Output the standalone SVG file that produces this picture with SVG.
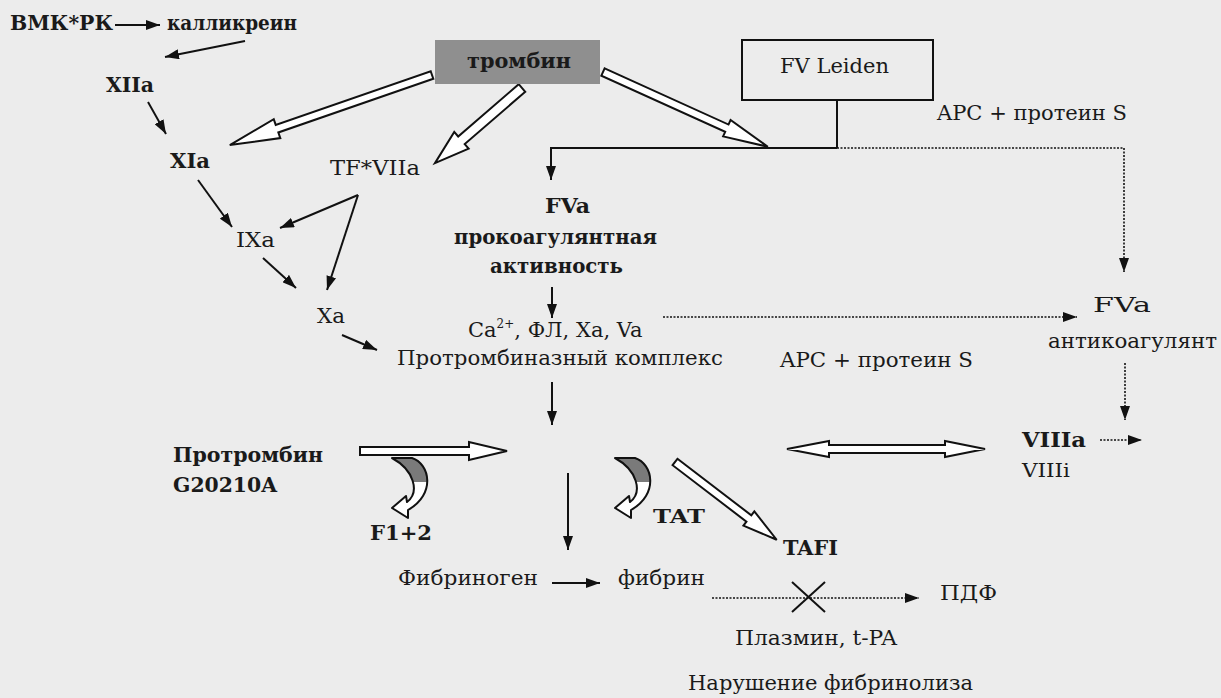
<svg xmlns="http://www.w3.org/2000/svg" xmlns:xlink="http://www.w3.org/1999/xlink" width="1221" height="698" viewBox="0 0 1221 698">
<style>
text{font-family:'DejaVu Serif',serif;font-size:21px;fill:#1a1a1a}
.b{font-weight:bold;font-size:20px}
.ln{stroke:#111;stroke-width:2;fill:none}
.dt{stroke:#111;stroke-width:1.6;fill:none;stroke-dasharray:2 1.5}
.hol{fill:#fff;stroke:#111;stroke-width:2;stroke-linejoin:miter}
</style>
<defs>
<marker id="ah" viewBox="0 0 14 10" refX="14" refY="5" markerWidth="14" markerHeight="10" markerUnits="userSpaceOnUse" orient="auto"><path d="M0,0 L14,5 L0,10 z" fill="#111"/></marker>
<clipPath id="topc" clipPathUnits="userSpaceOnUse"><rect x="-5" y="-5" width="50" height="29"/></clipPath>
<g id="curl">
<path d="M0,0 L20,0 C38,6 44,36 16,52 L16,60 L0,50 L14,38 L15,44 C28,34 22,12 0,0 Z" fill="#fff"/>
<path d="M0,0 L20,0 C38,6 44,36 16,52 L16,60 L0,50 L14,38 L15,44 C28,34 22,12 0,0 Z" fill="#7a7a7a" clip-path="url(#topc)"/>
<path d="M0,0 L20,0 C38,6 44,36 16,52 L16,60 L0,50 L14,38 L15,44 C28,34 22,12 0,0 Z" fill="none" stroke="#111" stroke-width="2" stroke-linejoin="round"/>
</g>
</defs>
<rect x="0" y="0" width="1221" height="698" fill="#ececec"/>

<g id="connectors">
<line class="ln" x1="115" y1="25" x2="160" y2="25" marker-end="url(#ah)"/>
<line class="ln" x1="245" y1="41" x2="165" y2="57" marker-end="url(#ah)"/>
<line class="ln" x1="148" y1="102" x2="166" y2="134" marker-end="url(#ah)"/>
<line class="ln" x1="198" y1="180" x2="232" y2="227" marker-end="url(#ah)"/>
<line class="ln" x1="358" y1="195" x2="280" y2="228" marker-end="url(#ah)"/>
<line class="ln" x1="358" y1="195" x2="327" y2="290" marker-end="url(#ah)"/>
<line class="ln" x1="263" y1="258" x2="296" y2="288" marker-end="url(#ah)"/>
<line class="ln" x1="342" y1="335" x2="377" y2="350" marker-end="url(#ah)"/>
<line class="ln" x1="550" y1="148" x2="837" y2="148"/>
<line class="ln" x1="837" y1="100" x2="837" y2="148"/>
<line class="ln" x1="551" y1="149" x2="551" y2="180" marker-end="url(#ah)"/>
<line class="ln" x1="552" y1="287" x2="552" y2="318" marker-end="url(#ah)"/>
<line class="ln" x1="552" y1="382" x2="552" y2="425" marker-end="url(#ah)"/>
<line class="ln" x1="568" y1="473" x2="568" y2="550" marker-end="url(#ah)"/>
<line class="ln" x1="552" y1="583" x2="600" y2="583" marker-end="url(#ah)"/>
<polyline class="dt" points="837,148 1124,148 1124,272" marker-end="url(#ah)"/>
<line class="dt" x1="663" y1="317" x2="1077" y2="317" marker-end="url(#ah)"/>
<line class="dt" x1="1125" y1="363" x2="1125" y2="420" marker-end="url(#ah)"/>
<line class="dt" x1="1100" y1="440" x2="1142" y2="440" marker-end="url(#ah)"/>
<line class="dt" x1="712" y1="598" x2="919" y2="598" marker-end="url(#ah)"/>
<line class="ln" x1="792" y1="582" x2="825" y2="612" stroke-width="1.6"/>
<line class="ln" x1="792" y1="612" x2="825" y2="582" stroke-width="1.6"/>
<polygon class="hol" transform="translate(432,75) rotate(160.9)" points="0,-4 164,-4 164,-10 214,0 164,10 164,4 0,4"/>
<polygon class="hol" transform="translate(522,88) rotate(139.2)" points="0,-5 80,-5 80,-11 115,0 80,11 80,5 0,5"/>
<polygon class="hol" transform="translate(603,72) rotate(24.4)" points="0,-4 136,-4 136,-9 181,0 136,9 136,4 0,4"/>
<polygon class="hol" points="360,447 469,447 469,442 507,451 469,460 469,455 360,455"/>
<polygon class="hol" points="787,449 829,441 829,445 945,445 945,441 985,449 945,457 945,453 829,453 829,457"/>
<polygon class="hol" transform="translate(675,462) rotate(37.4)" points="0,-4 93,-4 93,-9 128,0 93,9 93,4 0,4"/>
<use xlink:href="#curl" transform="translate(392,458)"/>
<use xlink:href="#curl" transform="translate(615,458)"/>
</g>

<g font-family="DejaVu Serif, serif">
<g id="n-vmk"><text class="b" x="10" y="30" textLength="103" lengthAdjust="spacingAndGlyphs">ВМК*РК</text></g>
<g id="n-kallikrein"><text class="b" x="167" y="30" textLength="130" lengthAdjust="spacingAndGlyphs">калликреин</text></g>
<g id="n-XIIa"><text class="b" x="106" y="92" textLength="48" lengthAdjust="spacingAndGlyphs">XIIa</text></g>
<g id="n-XIa"><text class="b" x="170" y="168" textLength="40" lengthAdjust="spacingAndGlyphs">XIa</text></g>
<g id="n-TFVIIa"><text x="330" y="175" textLength="90" lengthAdjust="spacingAndGlyphs">TF*VIIa</text></g>
<g id="n-IXa"><text x="236" y="247" textLength="39" lengthAdjust="spacingAndGlyphs">IXa</text></g>
<g id="n-Xa"><text x="317" y="323" textLength="28" lengthAdjust="spacingAndGlyphs">Xa</text></g>
<g id="n-thrombin"><rect x="435" y="40" width="165" height="44" fill="#8f8f8f"/><text class="b" x="467" y="68" textLength="104" lengthAdjust="spacingAndGlyphs">тромбин</text></g>
<g id="n-fvleiden"><rect x="742" y="40" width="191" height="60" fill="none" stroke="#111" stroke-width="2"/><text x="780" y="73" textLength="109" lengthAdjust="spacingAndGlyphs">FV Leiden</text></g>
<g id="l-apc1"><text x="937" y="120" textLength="190" lengthAdjust="spacingAndGlyphs">APC + протеин S</text></g>
<g id="n-fva-pro"><text class="b" x="545" y="213" textLength="45" lengthAdjust="spacingAndGlyphs">FVa</text><text class="b" x="454" y="244" textLength="203" lengthAdjust="spacingAndGlyphs">прокоагулянтная</text><text class="b" x="490" y="273" textLength="133" lengthAdjust="spacingAndGlyphs">активность</text></g>
<g id="n-complex"><text x="468" y="337">Ca<tspan dy="-9" style="font-size:12px">2+</tspan><tspan dy="9">, ФЛ, Xa, Va</tspan></text><text x="397" y="365" textLength="326" lengthAdjust="spacingAndGlyphs">Протромбиназный комплекс</text></g>
<g id="n-fva-anti"><text x="1093" y="312" textLength="58" lengthAdjust="spacingAndGlyphs">FVa</text><text x="1048" y="348" textLength="169" lengthAdjust="spacingAndGlyphs">антикоагулянт</text></g>
<g id="l-apc2"><text x="780" y="367" textLength="193" lengthAdjust="spacingAndGlyphs">APC + протеин S</text></g>
<g id="n-VIII"><text class="b" x="1022" y="447" textLength="64" lengthAdjust="spacingAndGlyphs">VIIIa</text><text x="1022" y="477" textLength="48" lengthAdjust="spacingAndGlyphs" style="font-size:18px">VIIIi</text></g>
<g id="n-prothrombin"><text class="b" x="173" y="462" textLength="150" lengthAdjust="spacingAndGlyphs">Протромбин</text><text class="b" x="173" y="492" textLength="104" lengthAdjust="spacingAndGlyphs">G20210A</text></g>
<g id="n-f12"><text class="b" x="370" y="540" textLength="62" lengthAdjust="spacingAndGlyphs">F1+2</text></g>
<g id="n-tat"><text class="b" x="653" y="523" textLength="52" lengthAdjust="spacingAndGlyphs" style="font-size:18px">TAT</text></g>
<g id="n-tafi"><text class="b" x="783" y="555" textLength="55" lengthAdjust="spacingAndGlyphs">TAFI</text></g>
<g id="n-fibrinogen"><text x="398" y="585" textLength="140" lengthAdjust="spacingAndGlyphs">Фибриноген</text></g>
<g id="n-fibrin"><text x="618" y="585" textLength="87" lengthAdjust="spacingAndGlyphs">фибрин</text></g>
<g id="n-pdf"><text x="940" y="600" textLength="57" lengthAdjust="spacingAndGlyphs">ПДФ</text></g>
<g id="l-plasmin"><text x="735" y="645" textLength="162" lengthAdjust="spacingAndGlyphs">Плазмин, t-PA</text></g>
<g id="l-fibrinolysis"><text x="688" y="690" textLength="285" lengthAdjust="spacingAndGlyphs">Нарушение фибринолиза</text></g>
</g>
</svg>
